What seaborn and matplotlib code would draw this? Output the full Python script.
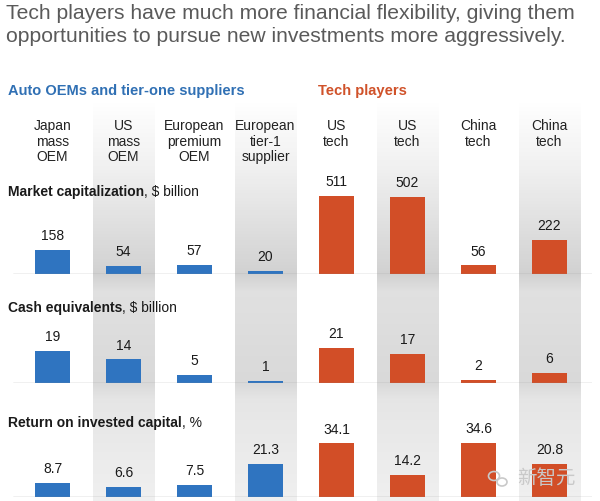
import numpy as np
import pandas as pd
import matplotlib
matplotlib.use("Agg")
import matplotlib.pyplot as plt
import matplotlib.transforms as mtransforms
from matplotlib.patches import Ellipse
import seaborn as sns

# ---------------- data ----------------
columns = ["Japan\nmass\nOEM", "US\nmass\nOEM", "European\npremium\nOEM",
           "European\ntier-1\nsupplier", "US\ntech", "US\ntech",
           "China\ntech", "China\ntech"]
groups = ["auto", "auto", "auto", "auto", "tech", "tech", "tech", "tech"]
market_cap = [158, 54, 57, 20, 511, 502, 56, 222]
cash_equiv = [19, 14, 5, 1, 21, 17, 2, 6]
roic = [8.7, 6.6, 7.5, 21.3, 34.1, 14.2, 34.6, 20.8]

title_lines = ["Tech players have much more financial flexibility, giving them",
               "opportunities to pursue new investments more aggressively."]
group_titles = ["Auto OEMs and tier-one suppliers", "Tech players"]
row_titles = [("Market capitalization", ", $ billion"),
              ("Cash equivalents", ", $ billion"),
              ("Return on invested capital", ", %")]

# ---------------- style ----------------
sns.set_theme(style="white")
plt.rcParams["font.family"] = ["Liberation Sans", "DejaVu Sans"]

BLUE = "#2f74c0"
ORANGE = "#d24e27"
BLUE_TXT = "#3070b4"
ORANGE_TXT = "#d0522a"
palette = {"auto": BLUE, "tech": ORANGE}

W, H = 600, 501
fig = plt.figure(figsize=(W / 100, H / 100), dpi=100)
fig.patch.set_facecolor("white")

# x-range in category units: centre of col 0 at 52.5 px, spacing 71 px
x_left_px, x_right_px = 13, 592
c0, step = 52.5, 71.0
xlim = ((x_left_px - c0) / step, (x_right_px - c0) / step)
ax_left = x_left_px / W
ax_width = (x_right_px - x_left_px) / W

# ---------------- background bands ----------------
bg = fig.add_axes([ax_left, 0, ax_width, 1])
bg.set_zorder(0)
bg.axis("off")
ys = np.arange(100, 502)
prof_y = [100, 170, 274, 292, 383, 400, 501]
prof_d = [0.0, 0.06, 0.18, 0.12, 0.15, 0.10, 0.06]
dark = np.interp(ys, prof_y, prof_d)
grad = np.zeros((len(ys), 1, 4))
grad[..., 0] = 0.55
grad[..., 1] = 0.55
grad[..., 2] = 0.55
grad[:, 0, 3] = dark / 0.45
for i in [1, 3, 5, 7]:
    bg.imshow(grad, extent=(i - 0.43, i + 0.43, 501, 100), aspect="auto",
              origin="upper", interpolation="bilinear")
bg.set_xlim(*xlim)
bg.set_ylim(H, 0)

# ---------------- rows of bars ----------------
rows = [
    (market_cap, 274, 110, 0.1527),
    (cash_equiv, 383, 70, 1.68),
    (roic, 497, 75, 1.57),
]
axes = []
for vals, base_px, h_px, px_per_unit in rows:
    ax = fig.add_axes([ax_left, (H - base_px) / H, ax_width, h_px / H])
    ax.set_zorder(2)
    ax.patch.set_visible(False)
    df = pd.DataFrame({"col": list(range(len(vals))), "value": vals, "group": groups})
    sns.barplot(data=df, x="col", y="value", hue="group", palette=palette,
                dodge=False, width=0.5, legend=False, ax=ax, saturation=1,
                linewidth=0, edgecolor="none")
    for cont in ax.containers:
        ax.bar_label(cont, fmt="{:g}", padding=5, fontsize=10, color="#1a1a1a")
    ax.axhline(0, color="#8c8c8c", lw=0.9, zorder=3)
    ax.set_xlim(*xlim)
    ax.set_ylim(0, h_px / px_per_unit)
    ax.set_xlabel("")
    ax.set_ylabel("")
    ax.set_xticks([])
    ax.set_yticks([])
    for s in ax.spines.values():
        s.set_visible(False)
    axes.append(ax)

# ---------------- overlay in pixel coordinates ----------------
ov = fig.add_axes([0, 0, 1, 1])
ov.set_zorder(3)
ov.patch.set_visible(False)
ov.set_xlim(0, W)
ov.set_ylim(H, 0)
ov.axis("off")

ov.text(6, 19, title_lines[0], fontsize=15.2, color="#5a5a5a", va="baseline", ha="left")
ov.text(6, 42, title_lines[1], fontsize=15.2, color="#5a5a5a", va="baseline", ha="left")

ov.text(8, 91, group_titles[0], fontsize=10.5, fontweight="bold", color=BLUE_TXT, va="center")
ov.text(318, 91, group_titles[1], fontsize=10.6, fontweight="bold", color=ORANGE_TXT, va="center")

# column labels aligned to category positions of the first row
trans = mtransforms.blended_transform_factory(axes[0].transData, ov.transData)
for i, lab in enumerate(columns):
    ov.text(i, 119, lab, transform=trans, ha="center", va="top", fontsize=10,
            color="#222222", linespacing=1.15)

# row titles: bold part + regular part
fig.canvas.draw()
renderer = fig.canvas.get_renderer()
for (bold, rest), y in zip(row_titles, [192, 308, 423]):
    t = ov.text(8, y, bold, fontsize=10, fontweight="bold", color="#1a1a1a", va="center")
    bb = t.get_window_extent(renderer=renderer)
    x_end = ov.transData.inverted().transform((bb.x1, bb.y0))[0]
    ov.text(x_end, y, rest, fontsize=10, color="#1a1a1a", va="center")

# watermark
wm = "#c9c9c9"
ov.add_patch(Ellipse((494, 476), 11, 9, fill=False, ec=wm, lw=1.2))
ov.add_patch(Ellipse((502, 482), 10, 8, fill=False, ec=wm, lw=1.2))
ov.text(546, 478, "新智元", fontsize=14, color=wm, ha="center", va="center",
        family=["Noto Sans CJK SC", "DejaVu Sans"])

fig.savefig("out.png", dpi=100, facecolor="white")
